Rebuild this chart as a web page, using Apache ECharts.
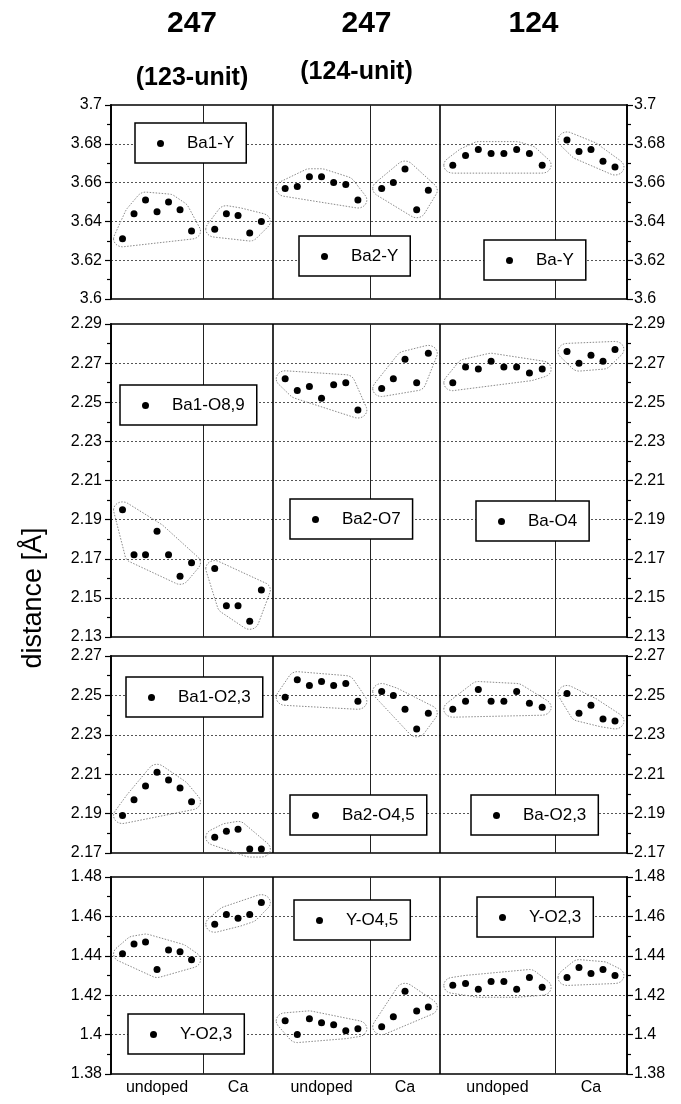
<!DOCTYPE html>
<html>
<head>
<meta charset="utf-8">
<script src="https://cdn.jsdelivr.net/npm/echarts@6/dist/echarts.min.js"></script>
<style>
  html, body { margin: 0; padding: 0; background: #fff; }
  #chart { width: 681px; height: 1104px; }
</style>
</head>
<body>
<div id="chart"></div>
<script>
// column headers and sample labels
const groupTitles = ['247', '247', '124']
const groupSubtitles = ['(123-unit)', '(124-unit)', '']
const sampleLabels = ['undoped', 'Ca', 'undoped', 'Ca', 'undoped', 'Ca']

// width of each sample column on the x scale
const columnWidths = [7.67, 5.83, 8.08, 5.83, 9.58, 6]

// y range of the four panels
const panelRanges = [[3.6, 3.7], [2.13, 2.29], [2.17, 2.27], [1.38, 1.48]]

// bond names (legend), one per compound per panel
const bondNames = [
  ['Ba1-Y', 'Ba2-Y', 'Ba-Y'],
  ['Ba1-O8,9', 'Ba2-O7', 'Ba-O4'],
  ['Ba1-O2,3', 'Ba2-O4,5', 'Ba-O2,3'],
  ['Y-O2,3', 'Y-O4,5', 'Y-O2,3']
]

// distances [Å], six columns each: 247(123) undoped, Ca, 247(124) undoped, Ca, 124 undoped, Ca
const baYDist = [
  [3.631, 3.644, 3.651, 3.645, 3.650, 3.646, 3.635],
  [3.636, 3.644, 3.643, 3.634, 3.640],
  [3.657, 3.658, 3.663, 3.663, 3.660, 3.659, 3.651],
  [3.657, 3.660, 3.667, 3.646, 3.656],
  [3.669, 3.674, 3.677, 3.675, 3.675, 3.677, 3.675, 3.669],
  [3.682, 3.676, 3.677, 3.671, 3.668]
]
const baOApicalDist = [
  [2.195, 2.172, 2.172, 2.184, 2.172, 2.161, 2.168],
  [2.165, 2.146, 2.146, 2.138, 2.154],
  [2.262, 2.256, 2.258, 2.252, 2.259, 2.260, 2.246],
  [2.257, 2.262, 2.272, 2.260, 2.275],
  [2.260, 2.268, 2.267, 2.271, 2.268, 2.268, 2.265, 2.267],
  [2.276, 2.270, 2.274, 2.271, 2.277]
]
const baOPlaneDist = [
  [2.189, 2.197, 2.204, 2.211, 2.207, 2.203, 2.196],
  [2.178, 2.181, 2.182, 2.172, 2.172],
  [2.249, 2.258, 2.255, 2.257, 2.255, 2.256, 2.247],
  [2.252, 2.250, 2.243, 2.233, 2.241],
  [2.243, 2.247, 2.253, 2.247, 2.247, 2.252, 2.246, 2.244],
  [2.251, 2.241, 2.245, 2.238, 2.237]
]
const yODist = [
  [1.441, 1.446, 1.447, 1.433, 1.443, 1.442, 1.438],
  [1.456, 1.461, 1.459, 1.461, 1.467],
  [1.407, 1.400, 1.408, 1.406, 1.405, 1.402, 1.403],
  [1.404, 1.409, 1.422, 1.412, 1.414],
  [1.425, 1.426, 1.423, 1.427, 1.427, 1.423, 1.429, 1.424],
  [1.429, 1.434, 1.431, 1.433, 1.430]
]
const panelData = [baYDist, baOApicalDist, baOPlaneDist, yODist]

// layout
const fontFamily = '"Liberation Sans", Arial, Helvetica, sans-serif'
const gridTops = [105, 324, 656, 877]
const gridHeights = [194, 313, 197, 197]
const legendBoxes = [
  [[135, 123], [299, 236], [484, 240]],
  [[120, 385], [290, 499], [476, 501]],
  [[126, 677], [290, 795], [471, 795]],
  [[128, 1014], [294, 900], [477, 897]]
]
const titleShift = [0, 10, 0]
const subtitleY = [78, 72, 0]

const columnEdges = [0]
columnWidths.forEach(w => columnEdges.push(columnEdges[columnEdges.length - 1] + w))
const xMax = columnEdges[columnEdges.length - 1]

// points of one column spread evenly across its width
function columnPoints(values, col) {
  const start = columnEdges[col]
  const w = columnWidths[col]
  return values.map((v, i) => [start + w * (i + 1) / (values.length + 1), v])
}

// convex hull (monotone chain)
function hull(points) {
  const p = points.slice().sort((a, b) => a[0] - b[0] || a[1] - b[1])
  const cross = (o, a, b) => (a[0] - o[0]) * (b[1] - o[1]) - (a[1] - o[1]) * (b[0] - o[0])
  const lower = []
  for (const q of p) {
    while (lower.length >= 2 && cross(lower[lower.length - 2], lower[lower.length - 1], q) <= 0) lower.pop()
    lower.push(q)
  }
  const upper = []
  for (let i = p.length - 1; i >= 0; i--) {
    const q = p[i]
    while (upper.length >= 2 && cross(upper[upper.length - 2], upper[upper.length - 1], q) <= 0) upper.pop()
    upper.push(q)
  }
  upper.pop()
  lower.pop()
  return lower.concat(upper)
}

// dotted envelope round each cluster of points
const makeEnvelope = (p) => (params, api) => {
  const col = params.dataIndex
  const pts = columnPoints(panelData[p][col], col).map(d => api.coord(d))
  const ring = []
  pts.forEach(([x, y]) => {
    for (let k = 0; k < 20; k++) {
      const a = k / 20 * Math.PI * 2
      ring.push([x + 9 * Math.cos(a), y + 8 * Math.sin(a)])
    }
  })
  return {
    type: 'polygon',
    silent: true,
    shape: { points: hull(ring) },
    style: { fill: 'none', stroke: '#8a8a8a', lineWidth: 1, lineDash: [1.5, 1.5] }
  }
}

const grids = []
const xAxes = []
const yAxes = []
const series = []
const legends = []

panelData.forEach((cols, p) => {
  const [min, max] = panelRanges[p]
  grids.push({
    left: 111, width: 516, top: gridTops[p], height: gridHeights[p],
    show: true, borderColor: '#000', borderWidth: 1.5, backgroundColor: 'transparent'
  })
  xAxes.push({ gridIndex: p, type: 'value', min: 0, max: xMax, show: false })
  const yBase = {
    gridIndex: p, type: 'value', min, max, interval: 0.02,
    axisLine: { show: true, lineStyle: { color: '#000', width: 1.8 } },
    axisTick: { show: true, length: 6, lineStyle: { color: '#000', width: 1.2 } },
    minorTick: { show: true, splitNumber: 2, length: 4, lineStyle: { color: '#000', width: 1.2 } },
    axisLabel: { color: '#000', fontSize: 16, fontFamily }
  }
  yAxes.push(Object.assign({}, yBase, {
    position: 'left',
    axisLabel: Object.assign({}, yBase.axisLabel, { margin: 9 }),
    splitLine: { show: true, showMinLine: false, showMaxLine: false, lineStyle: { color: '#555', width: 1, type: [2, 2] } }
  }))
  yAxes.push(Object.assign({}, yBase, {
    position: 'right',
    axisLabel: Object.assign({}, yBase.axisLabel, { margin: 7 }),
    splitLine: { show: false }
  }))

  series.push({
    type: 'custom',
    xAxisIndex: p, yAxisIndex: p * 2,
    renderItem: makeEnvelope(p),
    silent: true,
    z: 1,
    data: cols.map((vals, c) => [columnEdges[c] + columnWidths[c] / 2, vals[0]])
  })

  for (let g = 0; g < 3; g++) {
    const s = {
      type: 'scatter',
      name: bondNames[p][g],
      xAxisIndex: p, yAxisIndex: p * 2,
      symbol: 'circle',
      symbolSize: 7,
      itemStyle: { color: '#000', opacity: 1 },
      z: 3,
      data: columnPoints(cols[2 * g], 2 * g).concat(columnPoints(cols[2 * g + 1], 2 * g + 1))
    }
    if (g === 0) {
      s.markLine = {
        silent: true,
        symbol: ['none', 'none'],
        label: { show: false },
        data: [1, 2, 3, 4, 5].map(k => ({
          xAxis: columnEdges[k],
          lineStyle: k % 2 === 0
            ? { color: '#000', width: 1.6, type: 'solid' }
            : { color: '#222', width: 1, type: 'solid' }
        }))
      }
    }
    series.push(s)

    legends.push({
      data: [bondNames[p][g]],
      left: legendBoxes[p][g][0],
      top: legendBoxes[p][g][1],
      icon: 'circle',
      itemWidth: 7,
      itemHeight: 7,
      padding: [12, 12, 11, 22],
      backgroundColor: '#fff',
      borderColor: '#000',
      borderWidth: 1.5,
      selectedMode: false,
      z: 10,
      itemStyle: { opacity: 1 },
      textStyle: { fontSize: 17, color: '#000', fontFamily, padding: [0, 0, 0, 18] }
    })
  }
})

const chart = echarts.init(document.getElementById('chart'))
chart.setOption({
  animation: false,
  backgroundColor: '#fff',
  grid: grids,
  xAxis: xAxes,
  yAxis: yAxes,
  legend: legends,
  series
})

// texts placed from the axis scale
const px = v => chart.convertToPixel({ xAxisIndex: 3 }, v)
const textEl = (text, x, y, font, rotation) => ({
  type: 'text', x, y, rotation: rotation || 0, silent: true,
  style: { text, font, fill: '#000', align: 'center', verticalAlign: 'middle', textAlign: 'center', textVerticalAlign: 'middle' }
})
const graphics = []
groupTitles.forEach((t, g) => {
  const cx = px((columnEdges[2 * g] + columnEdges[2 * g + 2]) / 2)
  graphics.push(textEl(t, cx + titleShift[g], 24, 'bold 30px ' + fontFamily))
  if (groupSubtitles[g]) graphics.push(textEl(groupSubtitles[g], cx, subtitleY[g], 'bold 25px ' + fontFamily))
})
sampleLabels.forEach((t, c) => {
  graphics.push(textEl(t, px(columnEdges[c] + columnWidths[c] / 2), 1088, '16px ' + fontFamily))
})
graphics.push(textEl('distance [Å]', 34, 598, '27px ' + fontFamily, Math.PI / 2))
chart.setOption({ graphic: graphics })
</script>
</body>
</html>
